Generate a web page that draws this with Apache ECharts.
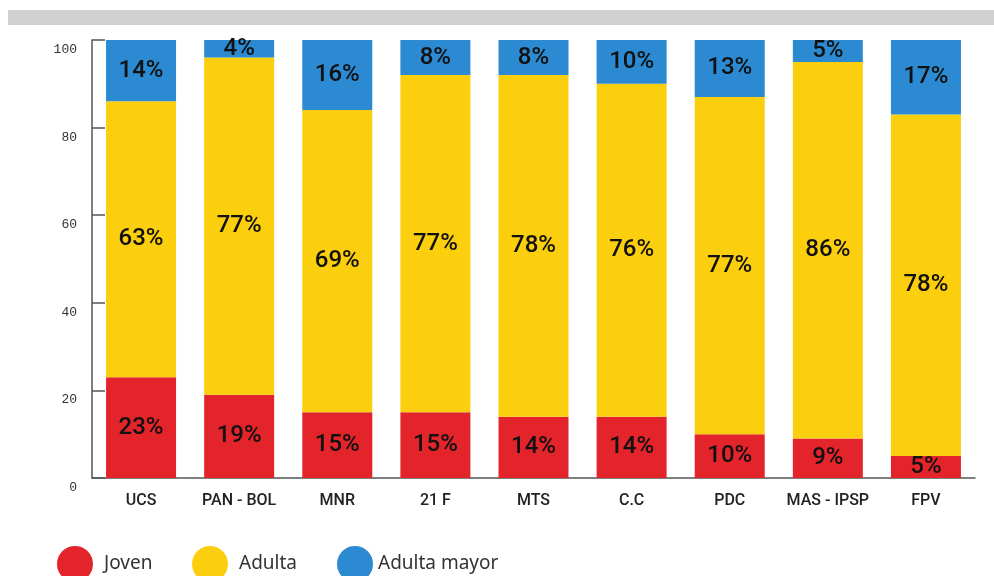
<!DOCTYPE html>
<html>
<head>
<meta charset="utf-8">
<script src="https://cdn.jsdelivr.net/npm/echarts@6/dist/echarts.min.js"></script>
<style>
html,body{margin:0;padding:0;background:#fff;}
#chart{width:994px;height:576px;}
</style>
</head>
<body>
<div id="chart"></div>
<script>
var categories = ['UCS', 'PAN - BOL', 'MNR', '21 F', 'MTS', 'C.C', 'PDC', 'MAS - IPSP', 'FPV'];
var joven = [23, 19, 15, 15, 14, 14, 10, 9, 5];
var adulta = [63, 77, 69, 77, 78, 76, 77, 86, 78];
var adultaMayor = [14, 4, 16, 8, 8, 10, 13, 5, 17];
var yTicks = [0, 20, 40, 60, 80, 100];

var RED = '#e3242b', YEL = '#fccf0e', BLU = '#2b8ad2';
var condensed = 'Roboto, sans-serif';

function seriesOf(name, data, color) {
  return {
    name: name, type: 'bar', stack: 'total', data: data, barWidth: 70,
    itemStyle: { color: color },
    label: {
      show: true, position: 'inside', formatter: '{c}%',
      fontFamily: condensed, fontSize: 24, fontWeight: 500, color: '#111'
    }
  };
}

function legendOf(name, left) {
  return {
    data: [name], left: left, top: 541, orient: 'horizontal',
    icon: 'circle', itemWidth: 36, itemHeight: 36, selectedMode: false,
    textStyle: { fontFamily: '"Noto Sans", sans-serif', fontSize: 19, color: '#333',
      padding: [0, 0, 0, name === 'Adulta mayor' ? 0 : 6] }
  };
}

var chart = echarts.init(document.getElementById('chart'));
chart.setOption({
  animation: false,
  backgroundColor: '#fff',
  graphic: [{
    type: 'rect', shape: { x: 8, y: 10, width: 986, height: 15 },
    style: { fill: '#d0d0d0' }, silent: true
  }],
  legend: [legendOf('Joven', 52), legendOf('Adulta', 187), legendOf('Adulta mayor', 332)],
  grid: { left: 92, right: 19, top: 40, bottom: 98, containLabel: false },
  xAxis: {
    type: 'category', data: categories,
    axisLine: { lineStyle: { color: '#555', width: 1.5 } },
    axisTick: { inside: true, length: 9, lineStyle: { color: '#555', width: 1.5 } },
    axisLabel: { interval: 0, margin: 15, fontFamily: condensed, fontSize: 16, fontWeight: 500, color: '#222' }
  },
  yAxis: {
    type: 'value', min: yTicks[0], max: yTicks[yTicks.length - 1], interval: 20,
    splitLine: { show: false },
    axisLine: { show: true, lineStyle: { color: '#555', width: 1.5 } },
    axisTick: { show: true, inside: true, length: 13, lineStyle: { color: '#555', width: 1.5 } },
    axisLabel: {
      margin: 15, fontFamily: '"Liberation Mono", "DejaVu Sans Mono", monospace', fontSize: 13,
      color: '#333', verticalAlign: 'top', padding: [3, 0, 0, 0]
    }
  },
  series: [
    seriesOf('Joven', joven, RED),
    seriesOf('Adulta', adulta, YEL),
    seriesOf('Adulta mayor', adultaMayor, BLU)
  ]
});
</script>
</body>
</html>
